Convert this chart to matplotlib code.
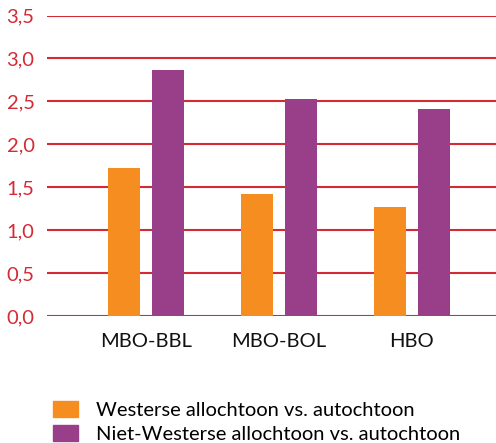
import matplotlib
matplotlib.use("Agg")
import matplotlib.pyplot as plt
import numpy as np
from matplotlib.patches import Patch

categories = ["MBO-BBL", "MBO-BOL", "HBO"]
westers = [1.72, 1.42, 1.27]
niet_westers = [2.86, 2.53, 2.41]
series_labels = ["Westerse allochtoon vs. autochtoon", "Niet-Westerse allochtoon vs. autochtoon"]
yticks = [0.0, 0.5, 1.0, 1.5, 2.0, 2.5, 3.0, 3.5]
ytick_labels = ["0,0", "0,5", "1,0", "1,5", "2,0", "2,5", "3,0", "3,5"]

orange = "#F68D21"
purple = "#993F8A"
red = "#D42A35"

plt.rcParams['font.family'] = ['Lato', 'DejaVu Sans']
fs = 14.5

W, H = 496, 443
fig = plt.figure(figsize=(W / 100, H / 100), dpi=100)
ax = fig.add_axes([47 / W, 1 - 316 / H, (496 - 47) / W, (316 - 15.5) / H])

x = np.arange(len(categories))
bw = 0.24
off = 0.165
ax.bar(x - off, westers, bw, color=orange, zorder=3)
ax.bar(x + off, niet_westers, bw, color=purple, zorder=3)

ax.set_xlim(-0.744, 2.632)
ax.set_ylim(0, 3.5)
ax.set_yticks(yticks)
ax.set_yticklabels(ytick_labels, color=red, fontsize=fs)
ax.set_xticks(x)
ax.set_xticklabels(categories, fontsize=fs, color="#111111")
ax.tick_params(axis='both', length=0)
ax.tick_params(axis='y', pad=9)
ax.tick_params(axis='x', pad=12)
for s in ax.spines.values():
    s.set_visible(False)
ax.set_axisbelow(True)
ax.yaxis.grid(True, color=red, linewidth=1.5, zorder=0)

handles = [Patch(color=orange), Patch(color=purple)]
fig.legend(handles, series_labels, loc='upper left', bbox_to_anchor=(51 / W, 1 - 399 / H),
           frameon=False, fontsize=fs, handlelength=1.25, handleheight=0.85,
           handletextpad=0.9, labelspacing=0.3, borderaxespad=0, borderpad=0.1)

fig.savefig("out.png", dpi=100)
